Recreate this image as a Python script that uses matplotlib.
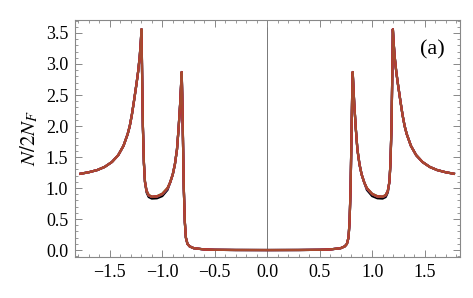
#!/usr/bin/env python3

import numpy as np
import matplotlib as mpl
import matplotlib.pyplot as plt
from matplotlib.ticker import MultipleLocator

PLOT = 'out.png'

# positive-energy half of the density of states (curve is symmetric in E)
energy = [0.0, 0.3, 0.5, 0.6, 0.7, 0.74, 0.76, 0.775, 0.785, 0.795, 0.803,
          0.81, 0.815, 0.822, 0.83, 0.845, 0.86, 0.88, 0.90, 0.925,
          0.95, 1.0, 1.05, 1.10, 1.13, 1.15,
          1.165, 1.175, 1.185, 1.192, 1.198, 1.205, 1.215, 1.23, 1.245,
          1.27, 1.29, 1.31, 1.33, 1.37, 1.42, 1.48, 1.55, 1.62, 1.70, 1.78]
dos = [0.0, 0.001, 0.004, 0.01, 0.03, 0.06, 0.10, 0.2, 0.45, 1.0, 1.8,
       2.5, 2.87, 2.62, 2.35, 1.95, 1.62, 1.38, 1.22, 1.09,
       0.99, 0.90, 0.86, 0.855, 0.88, 0.95,
       1.1, 1.4, 2.0, 2.8, 3.56, 3.35, 3.12, 2.88, 2.69,
       2.40, 2.18, 2.00, 1.87, 1.68, 1.53, 1.42, 1.34, 1.29, 1.255, 1.23]

# the curves only separate in the dip between the two peaks
dip_energy = [0.95, 1.0, 1.05, 1.10, 1.13, 1.15]
dip_black  = [0.97, 0.87, 0.835, 0.83, 0.855, 0.93]
dip_green  = [1.00, 0.91, 0.870, 0.862, 0.89, 0.96]
dip_blue   = [0.99, 0.90, 0.860, 0.855, 0.88, 0.955]
dip_purple = [0.99, 0.905, 0.865, 0.857, 0.885, 0.955]
dip_red    = [1.00, 0.905, 0.866, 0.86, 0.885, 0.955]
dip_brown  = [0.995, 0.90, 0.862, 0.857, 0.882, 0.952]

series = [
	('black',   dip_black),
	('#22dd22', dip_green),
	('#2233dd', dip_blue),
	('#aa33aa', dip_purple),
	('#ee1111', dip_red),
	('#a54a30', dip_brown),
]

x_ticks = [-1.5, -1.0, -0.5, 0.0, 0.5, 1.0, 1.5]
y_ticks = [0.0, 0.5, 1.0, 1.5, 2.0, 2.5, 3.0, 3.5]


def full_curve(dip):
	e = np.array(energy)
	n = np.array(dos, dtype=float)
	for de, dv in zip(dip_energy, dip):
		n[np.isclose(e, de)] = dv
	x = np.concatenate([-e[::-1], e[1:]])
	y = np.concatenate([n[::-1], n[1:]])
	return x, y


def gen_plot():
	plt.rcParams['mathtext.fontset'] = 'stix'
	plt.rcParams['font.family'] = ['Liberation Serif', 'DejaVu Serif']

	fig = plt.figure(figsize=(4.73, 2.98), dpi=100)
	ax = fig.add_axes([0.159, 0.138, 0.814, 0.795])

	ax.axvline(0, color='#777777', lw=0.7, zorder=1)

	for color, dip in series:
		x, y = full_curve(dip)
		ax.plot(x, y, color=color, lw=1.6, solid_joinstyle='round', zorder=2)

	ax.set_xlim(-1.83, 1.84)
	ax.set_ylim(-0.11, 3.71)

	ax.set_xticks(x_ticks)
	ax.set_xticklabels([f'{t:.1f}'.replace('-', '\u2212') for t in x_ticks])
	ax.set_yticks(y_ticks)
	ax.set_yticklabels([f'{t:.1f}' for t in y_ticks])
	ax.xaxis.set_minor_locator(MultipleLocator(0.1))
	ax.yaxis.set_minor_locator(MultipleLocator(0.1))

	ax.tick_params(which='both', direction='in', top=True, right=True,
	               color='#888888', labelsize=13, pad=5)
	ax.tick_params(which='major', length=5, width=0.7)
	ax.tick_params(which='minor', length=2.5, width=0.6)
	for s in ax.spines.values():
		s.set_color('#888888')
		s.set_linewidth(0.8)

	ax.set_ylabel(r'$N/2N_F$', fontsize=15, labelpad=4)
	ax.text(1.46, 3.22, '(a)', fontsize=16, ha='left', va='center')

	plt.savefig(PLOT, dpi=100)


if __name__ == '__main__':
	gen_plot()
